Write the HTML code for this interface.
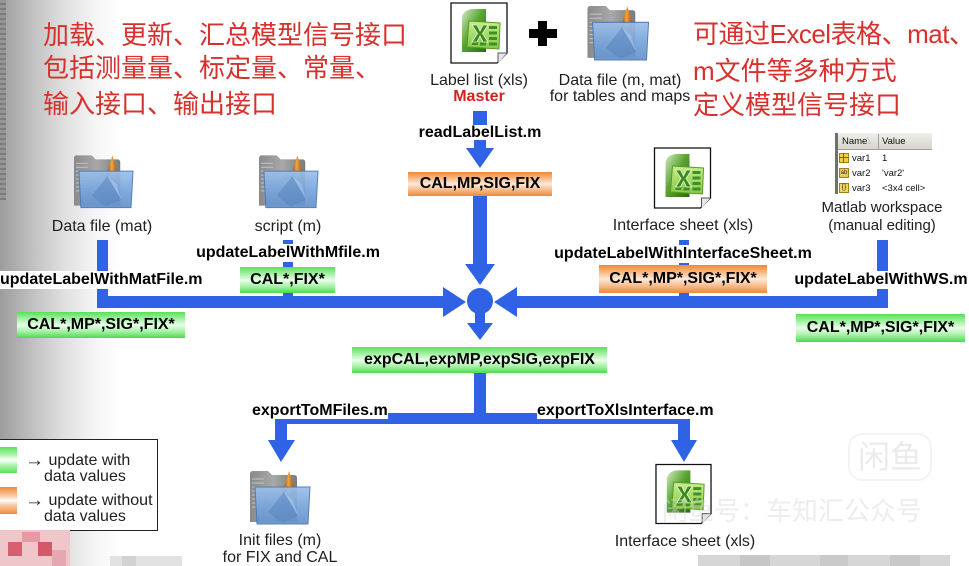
<!DOCTYPE html>
<html><head><meta charset="utf-8">
<style>
*{margin:0;padding:0;box-sizing:border-box}
html,body{width:969px;height:566px;overflow:hidden;background:#fff}
body{font-family:"Liberation Sans","Noto Sans CJK SC",sans-serif}
#c{position:relative;width:969px;height:566px;overflow:hidden;background:#fff}
.a{position:absolute}
.t{position:absolute;white-space:nowrap;font-size:16px;line-height:18px;height:18px;color:#1e1e1e}
.ct{transform:translateX(-50%)}
.b{font-weight:bold;color:#000}
.w{background:#fff}
.red{position:absolute;white-space:nowrap;font-size:26px;line-height:26px;color:#d8302c;font-family:"Liberation Sans","Noto Sans CJK SC",sans-serif}
.g,.o{position:absolute;font-weight:bold;font-size:16px;text-align:center;color:#000;white-space:nowrap}
.g{background:linear-gradient(to bottom,#58e058 0%,#a8f2a8 28%,#eafdea 50%,#a8f2a8 74%,#4cda4c 100%)}
.o{background:linear-gradient(to bottom,#ef8836 0%,#f7bd8c 28%,#fde9da 50%,#f7bd8c 74%,#ec8838 100%)}
.ws{position:absolute;font-size:9.5px;line-height:11px;color:#111;white-space:nowrap}
.arr{font-size:19px;font-weight:bold;display:inline-block;transform:translateY(1px)}
</style></head>
<body><div id="c">

<!-- left gray gradient background -->
<div class="a" style="left:0;top:0;width:125px;height:566px;background:linear-gradient(to right,#9d9d9d 0,#a9a9a9 12px,#c3c3c3 35px,#e0e0e0 65px,#f5f5f5 95px,#fff 122px)"></div>
<div class="a" style="left:0;top:0;width:6px;height:200px;background:repeating-linear-gradient(to bottom,#959595 0,#959595 3px,#7c7c7c 3px,#7c7c7c 5px)"></div>

<!-- shared gradients -->
<svg class="a" width="0" height="0" style="left:0;top:0">
<defs>
<linearGradient id="xg1" x1="0" y1="0" x2="1" y2="1"><stop offset="0" stop-color="#d4ecc0"/><stop offset=".45" stop-color="#5aa534"/><stop offset="1" stop-color="#2a6a14"/></linearGradient>
<linearGradient id="xg2" x1="0" y1="0" x2="0" y2="1"><stop offset="0" stop-color="#c4ee88"/><stop offset="1" stop-color="#86c848"/></linearGradient>
<linearGradient id="fg1" x1="0" y1="0" x2="1" y2="0"><stop offset="0" stop-color="#8a8a8a"/><stop offset=".5" stop-color="#a8a8a8"/><stop offset="1" stop-color="#7a7a7a"/></linearGradient>
<linearGradient id="fb" x1="0" y1="0" x2="0" y2="1"><stop offset="0" stop-color="#9cc0ea"/><stop offset=".5" stop-color="#7aa6dc"/><stop offset="1" stop-color="#6592cc"/></linearGradient>
<linearGradient id="cone" x1="0" y1="0" x2="1" y2="0"><stop offset="0" stop-color="#7a3000"/><stop offset=".45" stop-color="#f4a43a"/><stop offset="1" stop-color="#8a3a06"/></linearGradient>
</defs></svg>

<!-- connectors -->
<svg class="a" style="left:0;top:0" width="969" height="566">
<g fill="#3062e6">
<rect x="473" y="111" width="14" height="14"/>
<rect x="474" y="140" width="12" height="10"/>
<polygon points="466,148 494,148 480,168"/>
<rect x="473" y="196" width="14" height="70"/>
<polygon points="465,264 495,264 480,285"/>
<circle cx="480" cy="301" r="13"/>
<rect x="97" y="296" width="350" height="12"/>
<polygon points="443,287 443,317 466,302"/>
<rect x="97" y="240" width="11" height="68"/>
<rect x="283" y="240" width="10" height="60"/>
<rect x="514" y="296" width="374" height="12"/>
<polygon points="517,287 517,317 494,302"/>
<rect x="877" y="240" width="11" height="68"/>
<rect x="679" y="240" width="10" height="60"/>
<rect x="475" y="312" width="10" height="13"/>
<polygon points="467,323 493,323 480,340"/>
<rect x="474" y="373" width="12" height="51"/>
<rect x="275" y="413" width="415" height="11"/>
<rect x="275" y="413" width="12" height="29"/>
<polygon points="268,440 295,440 281,462"/>
<rect x="678" y="413" width="12" height="29"/>
<polygon points="671,440 697,440 684,462"/>
</g>
</svg>

<!-- red Chinese text -->
<div class="red" style="left:43px;top:22px">加载、更新、汇总模型信号接口</div>
<div class="red" style="left:43px;top:55px">包括测量量、标定量、常量、</div>
<div class="red" style="left:43px;top:91px">输入接口、输出接口</div>
<div class="red" style="left:693px;top:21px;letter-spacing:-0.5px">可通过Excel表格、mat、</div>
<div class="red" style="left:693px;top:58px">m文件等多种方式</div>
<div class="red" style="left:693px;top:92px">定义模型信号接口</div>

<!-- top excel icon -->
<svg class="a" style="left:450px;top:2px" width="58" height="62" viewBox="0 0 58 62">
<path d="M1 1H57V51L47 61H1Z" fill="#fff" stroke="#111" stroke-width="1.3"/>
<path d="M57 51H48V61" fill="#e6e6e6" stroke="#555" stroke-width="1"/>
<path d="M12 15 Q14 7 24 7 H36 V50 H12Z" fill="url(#xg1)"/>
<path d="M19 19 L50 21 L49 47 L17 45Z" fill="url(#xg2)" stroke="#5a9a2a" stroke-width="1"/>
<g fill="#3f8f25"><rect x="39" y="24" width="8" height="3"/><rect x="39" y="29.5" width="8" height="3"/><rect x="39" y="35" width="8" height="3"/><rect x="39" y="40.5" width="8" height="3"/><rect x="22" y="40" width="6" height="3"/><rect x="30" y="40.5" width="6" height="3"/></g>
<path d="M22 23 L27 23 L30 29 L33 23 L38 23 L32.5 31.5 L38 40 L33 40 L30 34 L27 40 L22 40 L27.5 31.5Z" fill="#3a8a1e" stroke="#eaf8da" stroke-width=".8"/>
</svg>

<!-- plus -->
<div class="a" style="left:529px;top:29px;width:28px;height:9px;background:#000"></div>
<div class="a" style="left:538px;top:21px;width:9px;height:25px;background:#000"></div>

<!-- folder icons -->
<svg class="a" style="left:585px;top:5px" width="66" height="57" viewBox="0 0 64 56">
<path d="M2 4 Q2 1 5 1 H20 L24 5 H46 Q49 5 49 8 V52 H2Z" fill="url(#fg1)"/>
<g stroke="#c4c4c4" stroke-width="1"><line x1="4" y1="9" x2="16" y2="9"/><line x1="4" y1="13" x2="16" y2="13"/><line x1="4" y1="17" x2="16" y2="17"/><line x1="4" y1="21" x2="16" y2="21"/><line x1="4" y1="25" x2="16" y2="25"/><line x1="4" y1="29" x2="16" y2="29"/><line x1="4" y1="33" x2="16" y2="33"/><line x1="4" y1="37" x2="16" y2="37"/></g>
<polygon points="41,1 34,24 48,24" fill="url(#cone)"/>
<path d="M7 17 H62 L60 54 H9Z" fill="url(#fb)" stroke="#4a78b2" stroke-width="1" opacity=".93"/>
<polygon points="20,42 36,22 50,46 34,53" fill="#5280bc" opacity=".45"/>
<polygon points="36,22 45,30 50,46" fill="#b8d2f0" opacity=".45"/>
</svg>
<svg class="a" style="left:72px;top:154px" width="63" height="56" viewBox="0 0 64 56">
<path d="M2 4 Q2 1 5 1 H20 L24 5 H46 Q49 5 49 8 V52 H2Z" fill="url(#fg1)"/>
<g stroke="#c4c4c4" stroke-width="1"><line x1="4" y1="9" x2="16" y2="9"/><line x1="4" y1="13" x2="16" y2="13"/><line x1="4" y1="17" x2="16" y2="17"/><line x1="4" y1="21" x2="16" y2="21"/><line x1="4" y1="25" x2="16" y2="25"/><line x1="4" y1="29" x2="16" y2="29"/><line x1="4" y1="33" x2="16" y2="33"/><line x1="4" y1="37" x2="16" y2="37"/></g>
<polygon points="41,1 34,24 48,24" fill="url(#cone)"/>
<path d="M7 17 H62 L60 54 H9Z" fill="url(#fb)" stroke="#4a78b2" stroke-width="1" opacity=".93"/>
<polygon points="20,42 36,22 50,46 34,53" fill="#5280bc" opacity=".45"/>
<polygon points="36,22 45,30 50,46" fill="#b8d2f0" opacity=".45"/>
</svg>
<svg class="a" style="left:257px;top:154px" width="63" height="56" viewBox="0 0 64 56">
<path d="M2 4 Q2 1 5 1 H20 L24 5 H46 Q49 5 49 8 V52 H2Z" fill="url(#fg1)"/>
<g stroke="#c4c4c4" stroke-width="1"><line x1="4" y1="9" x2="16" y2="9"/><line x1="4" y1="13" x2="16" y2="13"/><line x1="4" y1="17" x2="16" y2="17"/><line x1="4" y1="21" x2="16" y2="21"/><line x1="4" y1="25" x2="16" y2="25"/><line x1="4" y1="29" x2="16" y2="29"/><line x1="4" y1="33" x2="16" y2="33"/><line x1="4" y1="37" x2="16" y2="37"/></g>
<polygon points="41,1 34,24 48,24" fill="url(#cone)"/>
<path d="M7 17 H62 L60 54 H9Z" fill="url(#fb)" stroke="#4a78b2" stroke-width="1" opacity=".93"/>
<polygon points="20,42 36,22 50,46 34,53" fill="#5280bc" opacity=".45"/>
<polygon points="36,22 45,30 50,46" fill="#b8d2f0" opacity=".45"/>
</svg>
<svg class="a" style="left:248px;top:470px" width="64" height="56" viewBox="0 0 64 56">
<path d="M2 4 Q2 1 5 1 H20 L24 5 H46 Q49 5 49 8 V52 H2Z" fill="url(#fg1)"/>
<g stroke="#c4c4c4" stroke-width="1"><line x1="4" y1="9" x2="16" y2="9"/><line x1="4" y1="13" x2="16" y2="13"/><line x1="4" y1="17" x2="16" y2="17"/><line x1="4" y1="21" x2="16" y2="21"/><line x1="4" y1="25" x2="16" y2="25"/><line x1="4" y1="29" x2="16" y2="29"/><line x1="4" y1="33" x2="16" y2="33"/><line x1="4" y1="37" x2="16" y2="37"/></g>
<polygon points="41,1 34,24 48,24" fill="url(#cone)"/>
<path d="M7 17 H62 L60 54 H9Z" fill="url(#fb)" stroke="#4a78b2" stroke-width="1" opacity=".93"/>
<polygon points="20,42 36,22 50,46 34,53" fill="#5280bc" opacity=".45"/>
<polygon points="36,22 45,30 50,46" fill="#b8d2f0" opacity=".45"/>
</svg>

<!-- interface sheet excel icons -->
<svg class="a" style="left:653px;top:147px" width="59" height="62" viewBox="0 0 58 62">
<path d="M1 1H57V51L47 61H1Z" fill="#fff" stroke="#111" stroke-width="1.3"/>
<path d="M57 51H48V61" fill="#e6e6e6" stroke="#555" stroke-width="1"/>
<path d="M12 15 Q14 7 24 7 H36 V50 H12Z" fill="url(#xg1)"/>
<path d="M19 19 L50 21 L49 47 L17 45Z" fill="url(#xg2)" stroke="#5a9a2a" stroke-width="1"/>
<g fill="#3f8f25"><rect x="39" y="24" width="8" height="3"/><rect x="39" y="29.5" width="8" height="3"/><rect x="39" y="35" width="8" height="3"/><rect x="39" y="40.5" width="8" height="3"/><rect x="22" y="40" width="6" height="3"/><rect x="30" y="40.5" width="6" height="3"/></g>
<path d="M22 23 L27 23 L30 29 L33 23 L38 23 L32.5 31.5 L38 40 L33 40 L30 34 L27 40 L22 40 L27.5 31.5Z" fill="#3a8a1e" stroke="#eaf8da" stroke-width=".8"/>
</svg>
<svg class="a" style="left:655px;top:463px" width="57" height="62" viewBox="0 0 58 62">
<path d="M1 1H57V51L47 61H1Z" fill="#fff" stroke="#111" stroke-width="1.3"/>
<path d="M57 51H48V61" fill="#e6e6e6" stroke="#555" stroke-width="1"/>
<path d="M12 15 Q14 7 24 7 H36 V50 H12Z" fill="url(#xg1)"/>
<path d="M19 19 L50 21 L49 47 L17 45Z" fill="url(#xg2)" stroke="#5a9a2a" stroke-width="1"/>
<g fill="#3f8f25"><rect x="39" y="24" width="8" height="3"/><rect x="39" y="29.5" width="8" height="3"/><rect x="39" y="35" width="8" height="3"/><rect x="39" y="40.5" width="8" height="3"/><rect x="22" y="40" width="6" height="3"/><rect x="30" y="40.5" width="6" height="3"/></g>
<path d="M22 23 L27 23 L30 29 L33 23 L38 23 L32.5 31.5 L38 40 L33 40 L30 34 L27 40 L22 40 L27.5 31.5Z" fill="#3a8a1e" stroke="#eaf8da" stroke-width=".8"/>
</svg>

<!-- matlab workspace table -->
<div class="a" style="left:835px;top:133px;width:97px;height:61px;background:#fff;overflow:hidden">
  <div class="a" style="left:0;top:0;width:3px;height:61px;background:#707070"></div>
  <div class="a" style="left:3px;top:0;width:94px;height:17px;background:linear-gradient(#f0efeb,#d6d3ca);border-bottom:1px solid #a0a0a0"></div>
  <span class="ws" style="left:7px;top:3px">Name</span>
  <span class="ws" style="left:29px;top:3px;font-size:7px;color:#999">△</span>
  <div class="a" style="left:43px;top:1px;width:1px;height:15px;background:#a0a0a0"></div>
  <span class="ws" style="left:47px;top:3px">Value</span>
  <div class="a" style="left:4px;top:20px;width:10px;height:10px;background:#f0d040;border:1px solid #a08010"></div>
  <div class="a" style="left:8px;top:20px;width:1px;height:10px;background:#806000"></div>
  <div class="a" style="left:4px;top:24px;width:10px;height:1px;background:#806000"></div>
  <span class="ws" style="left:17px;top:20px">var1</span><span class="ws" style="left:47px;top:20px">1</span>
  <div class="a" style="left:4px;top:35px;width:10px;height:10px;background:#e8c860;border:1px solid #a08010;font-size:6px;line-height:8px;color:#333;text-align:center">ab</div>
  <span class="ws" style="left:17px;top:35px">var2</span><span class="ws" style="left:47px;top:35px">'var2'</span>
  <div class="a" style="left:4px;top:50px;width:10px;height:10px;background:#f0d860;border:1px solid #a08010;font-size:7px;line-height:8px;color:#333;text-align:center">{}</div>
  <span class="ws" style="left:17px;top:50px">var3</span><span class="ws" style="left:47px;top:50px">&lt;3x4 cell&gt;</span>
</div>

<!-- node labels -->
<div class="t ct" style="left:479px;top:72px">Label list (xls)</div>
<div class="t ct b" style="left:479px;top:88px;color:#d42222">Master</div>
<div class="t ct" style="left:620px;top:72px">Data file (m, mat)</div>
<div class="t ct" style="left:620px;top:88px">for tables and maps</div>
<div class="t ct b" style="left:480px;top:124px">readLabelList.m</div>
<div class="t ct" style="left:102px;top:218px">Data file (mat)</div>
<div class="t ct" style="left:288px;top:218px">script (m)</div>
<div class="t ct" style="left:683px;top:217px">Interface sheet (xls)</div>
<div class="t ct" style="left:882px;top:199px;font-size:15px">Matlab workspace</div>
<div class="t ct" style="left:882px;top:217px;font-size:15px">(manual editing)</div>

<div class="t b w" style="left:0;top:271px">updateLabelWithMatFile.m</div>
<div class="t ct b w" style="left:288px;top:244px">updateLabelWithMfile.m</div>
<div class="t ct b w" style="left:683px;top:245px">updateLabelWithInterfaceSheet.m</div>
<div class="t ct b w" style="left:881px;top:271px">updateLabelWithWS.m</div>

<!-- boxes -->
<div class="o" style="left:408px;top:172px;width:144px;height:24px;line-height:24px">CAL,MP,SIG,FIX</div>
<div class="g" style="left:17px;top:312px;width:168px;height:26px;line-height:26px">CAL*,MP*,SIG*,FIX*</div>
<div class="g" style="left:240px;top:267px;width:95px;height:26px;line-height:26px">CAL*,FIX*</div>
<div class="o" style="left:599px;top:265px;width:168px;height:28px;line-height:28px">CAL*,MP*,SIG*,FIX*</div>
<div class="g" style="left:796px;top:314px;width:169px;height:28px;line-height:28px">CAL*,MP*,SIG*,FIX*</div>
<div class="g" style="left:352px;top:347px;width:255px;height:26px;line-height:26px">expCAL,expMP,expSIG,expFIX</div>

<div class="t b w" style="left:252px;top:402px;height:17px;line-height:17px">exportToMFiles.m</div>
<div class="t b w" style="left:537px;top:402px;height:17px;line-height:17px">exportToXlsInterface.m</div>

<div class="t ct" style="left:280px;top:532px">Init files (m)</div>
<div class="t ct" style="left:280px;top:549px">for FIX and CAL</div>
<div class="t ct" style="left:685px;top:533px">Interface sheet (xls)</div>

<!-- legend -->
<div class="a" style="left:0;top:439px;width:158px;height:92px;background:#fff;border:1px solid #222;border-left:none"></div>
<div class="a" style="left:0;top:447px;width:17px;height:26px;background:linear-gradient(to bottom,#58e058 0%,#bff6bf 35%,#fff 50%,#bff6bf 65%,#58e058 100%)"></div>
<div class="a" style="left:0;top:487px;width:17px;height:27px;background:linear-gradient(to bottom,#ef8a3a 0%,#f9cfae 35%,#fff 50%,#f9cfae 65%,#ef8a3a 100%)"></div>
<div class="t" style="left:25px;top:451px"><span class="arr">→</span> update with</div>
<div class="t" style="left:44px;top:468px">data values</div>
<div class="t" style="left:25px;top:491px"><span class="arr">→</span> update without</div>
<div class="t" style="left:44px;top:508px">data values</div>

<!-- faint watermarks -->
<div class="a" style="left:848px;top:433px;width:84px;height:48px;border:2px solid #f3f3f3;border-radius:14px;font-size:32px;line-height:44px;text-align:center;color:#ebebeb;font-family:'Liberation Sans','Noto Sans CJK SC',sans-serif">闲鱼</div>
<div class="a" style="left:662px;top:497px;font-size:26px;line-height:28px;color:rgba(215,215,215,0.45);white-space:nowrap;font-family:'Liberation Sans','Noto Sans CJK SC',sans-serif">闲鱼号：车知汇公众号</div>

<!-- bottom mosaics -->
<div class="a" style="left:0;top:530px;width:70px;height:36px;background:#efc6ca"></div>
<div class="a" style="left:8px;top:542px;width:14px;height:14px;background:#d8606e"></div>
<div class="a" style="left:38px;top:542px;width:14px;height:14px;background:#d45868"></div>
<div class="a" style="left:22px;top:532px;width:18px;height:10px;background:#e89aa4"></div>
<div class="a" style="left:52px;top:550px;width:14px;height:16px;background:#e6a8b0"></div>
<div class="a" style="left:110px;top:556px;width:72px;height:10px;background:#e2e2e2"></div>
<div class="a" style="left:122px;top:556px;width:14px;height:10px;background:#d2d2d2"></div>
<div class="a" style="left:698px;top:555px;width:252px;height:11px;background:#d6d6d6"></div>
<div class="a" style="left:740px;top:555px;width:30px;height:11px;background:#c6c6c6"></div>
<div class="a" style="left:820px;top:555px;width:28px;height:11px;background:#cacaca"></div>
<div class="a" style="left:890px;top:555px;width:30px;height:11px;background:#c8c8c8"></div>

</div></body></html>
